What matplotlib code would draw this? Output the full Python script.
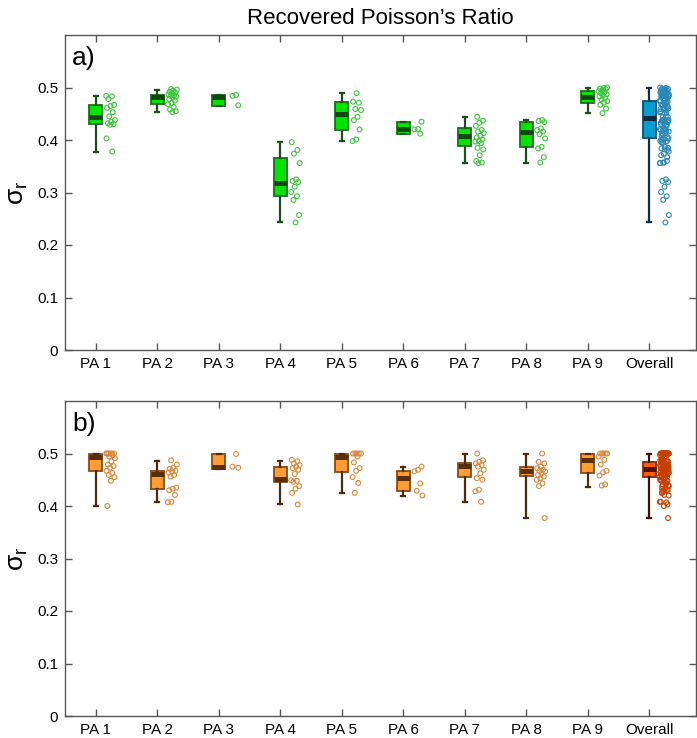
import numpy as np
import matplotlib.pyplot as plt

plt.rcParams["font.family"] = ["Liberation Sans", "DejaVu Sans"]

# ============================================================
# Data
# ============================================================

groups = ["PA 1", "PA 2", "PA 3", "PA 4", "PA 5", "PA 6", "PA 7", "PA 8", "PA 9", "Overall"]

# --- panel a: box statistics (PA 1..9, Overall) ---
a_hi  = [0.484, 0.495, 0.486, 0.396, 0.490, 0.435, 0.444, 0.438, 0.500, 0.500]
a_q3  = [0.467, 0.485, 0.486, 0.366, 0.472, 0.435, 0.422, 0.435, 0.494, 0.475]
a_med = [0.444, 0.481, 0.482, 0.319, 0.450, 0.421, 0.408, 0.416, 0.481, 0.441]
a_q1  = [0.430, 0.468, 0.465, 0.293, 0.420, 0.411, 0.389, 0.386, 0.470, 0.403]
a_lo  = [0.378, 0.453, 0.465, 0.243, 0.398, 0.411, 0.356, 0.356, 0.451, 0.243]

# --- panel a: individual estimates per PA ---
a_pts = [
    [0.484, 0.483, 0.478, 0.467, 0.465, 0.461, 0.453, 0.445, 0.438, 0.435,
     0.432, 0.430, 0.429, 0.403, 0.378],
    [0.497, 0.496, 0.494, 0.492, 0.490, 0.488, 0.487, 0.485, 0.484, 0.483,
     0.481, 0.478, 0.475, 0.471, 0.468, 0.463, 0.458, 0.455, 0.453],
    [0.486, 0.484, 0.466],
    [0.396, 0.381, 0.374, 0.356, 0.325, 0.322, 0.320, 0.311, 0.301, 0.293,
     0.286, 0.257, 0.243],
    [0.489, 0.473, 0.471, 0.459, 0.457, 0.444, 0.438, 0.420, 0.401, 0.398],
    [0.435, 0.421, 0.420, 0.412],
    [0.444, 0.437, 0.433, 0.427, 0.419, 0.416, 0.413, 0.408, 0.405, 0.401,
     0.398, 0.397, 0.394, 0.385, 0.382, 0.371, 0.360, 0.357, 0.356],
    [0.438, 0.436, 0.434, 0.422, 0.419, 0.416, 0.411, 0.403, 0.387, 0.384,
     0.367, 0.357],
    [0.500, 0.499, 0.498, 0.497, 0.495, 0.493, 0.491, 0.489, 0.487, 0.485,
     0.483, 0.480, 0.477, 0.474, 0.471, 0.467, 0.460, 0.451],
]

# --- panel b: box statistics ---
b_hi  = [0.500, 0.486, 0.499, 0.486, 0.500, 0.475, 0.499, 0.499, 0.499, 0.500]
b_q3  = [0.500, 0.467, 0.499, 0.475, 0.500, 0.467, 0.481, 0.475, 0.499, 0.484]
b_med = [0.493, 0.461, 0.475, 0.451, 0.493, 0.454, 0.476, 0.467, 0.488, 0.470]
b_q1  = [0.467, 0.432, 0.471, 0.446, 0.465, 0.429, 0.455, 0.457, 0.462, 0.455]
b_lo  = [0.400, 0.408, 0.471, 0.403, 0.425, 0.420, 0.408, 0.377, 0.437, 0.377]

# --- panel b: individual estimates per PA ---
b_pts = [
    [0.500, 0.500, 0.500, 0.500, 0.500, 0.500, 0.497, 0.494, 0.491, 0.485,
     0.479, 0.476, 0.473, 0.467, 0.463, 0.459, 0.455, 0.448, 0.400],
    [0.487, 0.479, 0.473, 0.471, 0.467, 0.466, 0.464, 0.459, 0.456, 0.435,
     0.433, 0.430, 0.421, 0.408, 0.407],
    [0.499, 0.475, 0.473],
    [0.488, 0.485, 0.481, 0.478, 0.475, 0.472, 0.469, 0.461, 0.449, 0.448,
     0.446, 0.438, 0.433, 0.425, 0.403],
    [0.500, 0.500, 0.500, 0.500, 0.500, 0.494, 0.483, 0.472, 0.467, 0.455,
     0.444, 0.425],
    [0.475, 0.469, 0.466, 0.443, 0.429, 0.420],
    [0.500, 0.487, 0.484, 0.481, 0.478, 0.475, 0.469, 0.462, 0.453, 0.450,
     0.431, 0.428, 0.408],
    [0.500, 0.484, 0.481, 0.475, 0.472, 0.469, 0.467, 0.466, 0.462, 0.459,
     0.456, 0.453, 0.450, 0.443, 0.438, 0.377],
    [0.500, 0.500, 0.500, 0.500, 0.500, 0.494, 0.488, 0.479, 0.467, 0.464,
     0.458, 0.441, 0.439],
]

yticks = [0, 0.1, 0.2, 0.3, 0.4, 0.5]

# ============================================================
# Styles
# ============================================================

STY_A    = dict(face="#00e400", edge="#1b6e1b", med="#0b4a0b", whisk="#1e4d1e", pts="#3fc43f")
STY_A_OV = dict(face="#0a9bd0", edge="#0b4d72", med="#0a2c44", whisk="#0c2f45", pts="#2a88b8")
STY_B    = dict(face="#ff9c32", edge="#8a4a12", med="#5a2e08", whisk="#4e2a0c", pts="#d9893e")
STY_B_OV = dict(face="#ff5a10", edge="#8a2a06", med="#4a1604", whisk="#3c1204", pts="#c63e00")

W, H = 697, 738
fig = plt.figure(figsize=(W / 100, H / 100), dpi=100)

def ax_rect(left, top, right, bottom):
    return [left / W, 1 - bottom / H, (right - left) / W, (bottom - top) / H]

ax_a = fig.add_axes(ax_rect(65, 35, 696, 350))
ax_b = fig.add_axes(ax_rect(65, 401, 696, 716))


def jitter(n, k):
    # deterministic spread of the dots to the right of each box
    idx = np.arange(n)
    return 0.17 + 0.15 * ((idx * 0.618034 + k * 0.37) % 1.0)


def draw_panel(ax, lo, q1, med, q3, hi, pts, sty, sty_ov, letter):
    pos = np.arange(1, len(groups) + 1)
    stats = [dict(whislo=lo[i], q1=q1[i], med=med[i], q3=q3[i], whishi=hi[i])
             for i in range(len(groups))]
    for i, st in enumerate(stats):
        s = sty_ov if i == len(groups) - 1 else sty
        ax.bxp([st], positions=[pos[i]], widths=0.21, capwidths=0.06,
               showfliers=False, patch_artist=True,
               boxprops=dict(facecolor=s["face"], edgecolor=s["edge"], linewidth=1.3),
               medianprops=dict(color=s["med"], linewidth=3.6, solid_capstyle="butt"),
               whiskerprops=dict(color=s["whisk"], linewidth=1.6),
               capprops=dict(color=s["whisk"], linewidth=1.6))

    # dots: each PA, then all of them together for "Overall"
    all_pts = np.concatenate([np.asarray(p) for p in pts])
    for i, p in enumerate(pts + [all_pts]):
        p = np.asarray(p)
        s = sty_ov if i == len(groups) - 1 else sty
        ax.scatter(pos[i] + jitter(len(p), i), p, s=12, facecolors="none",
                   edgecolors=s["pts"], linewidths=0.8, zorder=3)

    ax.set_xlim(0.5, 10.76)
    ax.set_ylim(0, 0.6)
    ax.set_xticks(pos)
    ax.set_xticklabels(groups)
    ax.set_yticks(yticks)
    ax.set_yticklabels(["0", "0.1", "0.2", "0.3", "0.4", "0.5"])
    ax.tick_params(direction="in", length=5, width=1.0, top=True, right=True,
                   labelsize=11, colors="#555555", labelcolor="black", pad=5)
    for sp in ax.spines.values():
        sp.set_color("#555555")
        sp.set_linewidth(1.0)
    ax.set_ylabel(r"$\mathregular{\sigma_r}$", fontsize=19, labelpad=5)
    ax.text(0.011, 0.965, letter, transform=ax.transAxes, fontsize=19,
            ha="left", va="top")


draw_panel(ax_a, a_lo, a_q1, a_med, a_q3, a_hi, a_pts, STY_A, STY_A_OV, "a)")
draw_panel(ax_b, b_lo, b_q1, b_med, b_q3, b_hi, b_pts, STY_B, STY_B_OV, "b)")

fig.text(380.5 / W, 1 - 18 / H, "Recovered Poisson\u2019s Ratio",
         ha="center", va="center", fontsize=16)

fig.savefig("out.png", dpi=100)
